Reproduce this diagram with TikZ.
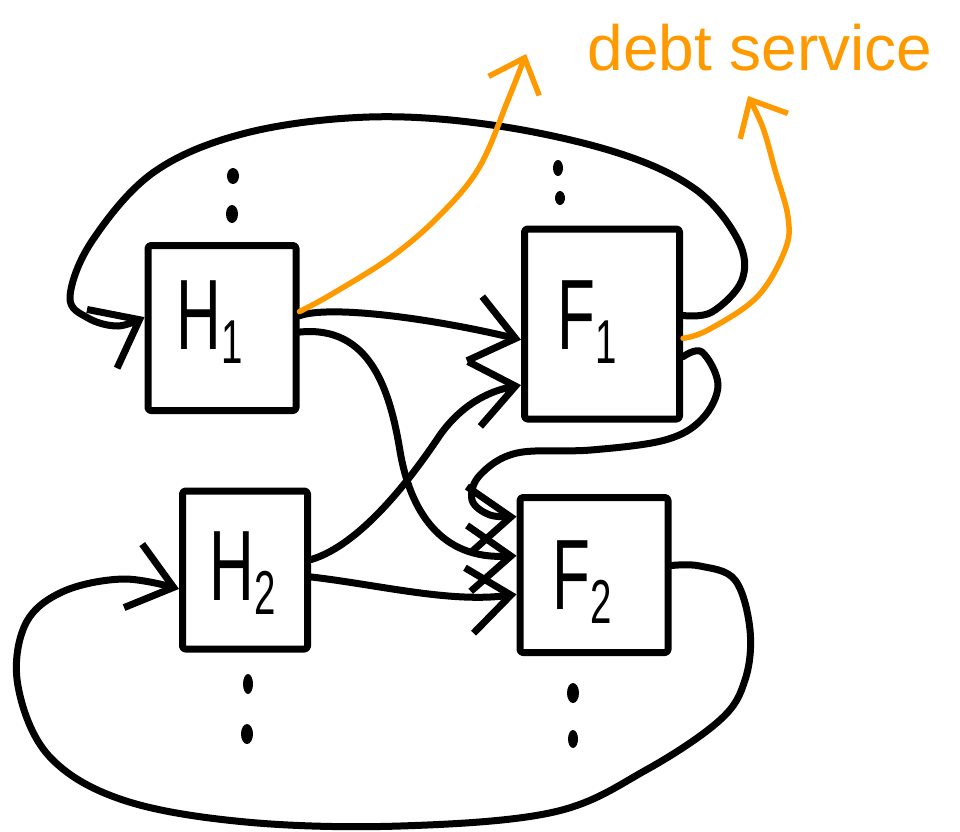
\documentclass[tikz,border=0pt]{standalone}
\usepackage{fontspec}
\setmainfont{Liberation Sans}
\usepackage{graphicx}
\usetikzlibrary{arrows.meta}
\definecolor{orng}{RGB}{255,153,0}
\newcommand\boxlbl[2]{\scalebox{0.62}[1]{\fontsize{100}{100}\selectfont #1\raisebox{-14pt}{\fontsize{62}{62}\selectfont #2}}}
\tikzset{
  pen/.style={line width=7pt, line cap=round, line join=round},
  sq/.style={pen, draw, rectangle, rounded corners=3pt, inner sep=0pt},
  lbl/.style={inner sep=0pt},
  arr/.style={pen, -{Straight Barb[length=42pt,width=66pt,line width=7pt]}},
  oarr/.style={line width=5.5pt, line cap=round, draw=orng, -{Straight Barb[length=30pt,width=54pt,line width=5.5pt]}},
}
\begin{document}
\begin{tikzpicture}[x=1pt,y=-1pt]
\useasboundingbox (0,0) rectangle (960,831);
% boxes
\node[sq, minimum width=148pt, minimum height=165pt] (H1) at (222,328) {};
\node[sq, minimum width=155pt, minimum height=190pt] (F1) at (602,324) {};
\node[sq, minimum width=125pt, minimum height=158pt] (H2) at (245,570) {};
\node[sq, minimum width=148pt, minimum height=155pt] (F2) at (594,575) {};
% labels
\node[lbl] (H1t) at (210,322) {\boxlbl{H}{1}};
\node[lbl] (F1t) at (587,322) {\boxlbl{F}{1}};
\node[lbl] (H2t) at (243,573) {\boxlbl{H}{2}};
\node[lbl] (F2t) at (582,582) {\boxlbl{F}{2}};
% dots
\fill (233,176) ellipse [x radius=6pt, y radius=8pt];
\fill (232,214) ellipse [x radius=6pt, y radius=9pt];
\fill (558,168) ellipse [x radius=5pt, y radius=8pt];
\fill (560,198) ellipse [x radius=5pt, y radius=7pt];
\fill (248,684) ellipse [x radius=5pt, y radius=10pt];
\fill (247,734) ellipse [x radius=6pt, y radius=10pt];
\fill (573,693) ellipse [x radius=6pt, y radius=10pt];
\fill (573,739) ellipse [x radius=5pt, y radius=9pt];
% straight-ish connectors
\draw[arr] (H1.9) .. controls (330,305) and (430,318) .. (F1.191);
\draw[arr] (H1.-3) .. controls (370,325) and (390,390) .. (400,451) .. controls (410,510) and (440,560) .. (F2.166);
\draw[arr] (H2.9) .. controls (360,545) and (410,480) .. (440,435) .. controls (465,400) and (495,390) .. (F1.217);
\draw[arr] (H2.-6) .. controls (380,585) and (450,603) .. (F2.194);
% loops
\draw[arr] plot[smooth, tension=0.6] coordinates {(F1.6) (712,312) (742,280) (738,240) (695,189) (615,152) (492,125) (369,117) (246,133) (154,172) (92,241) (70,297) (88,318) (118,326) (H1.172)};
\draw[arr] plot[smooth, tension=0.6] coordinates {(F2.7) (700,566) (735,580) (750,630) (745,680) (720,720) (646,770) (554,812) (400,826) (246,822) (123,800) (49,756) (18,686) (25,625) (62,592) (123,579) (H2.196)};
\draw[arr] plot[smooth, tension=0.6] coordinates {(F1.-22) (702,352) (718,385) (702,419) (665,440) (591,450) (517,453) (480,475) (472,500) (490,515) (F2.143)};
% orange
\node[text=orng, font=\fontsize{64}{64}\selectfont, anchor=base, inner sep=0pt] (ds) at (760,70) {debt service};
\coordinate (ds1) at (526,54);
\coordinate (ds2) at (748,96);
\draw[oarr] plot[smooth, tension=0.6] coordinates {(H1.12) (332,294) (394,255) (443,212) (480,166) (508,100) (ds1)};
\draw[oarr] plot[smooth, tension=0.6] coordinates {(F1.-10) (708,330) (757,297) (785,250) (788,217) (775,170) (763,128) (ds2)};
\end{tikzpicture}
\end{document}
